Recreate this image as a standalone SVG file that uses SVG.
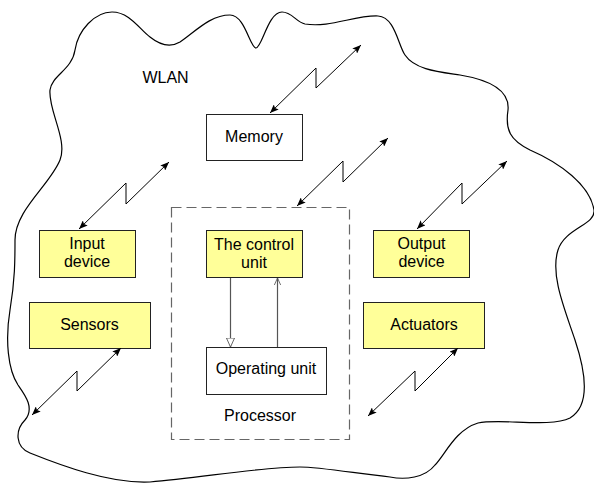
<svg xmlns="http://www.w3.org/2000/svg" width="594" height="483" viewBox="0 0 594 483">
<style>
text{font-family:"Liberation Sans",Arial,sans-serif;font-size:16px;fill:#000;text-anchor:middle}
.box{fill:#fff;stroke:#222;stroke-width:1}
.yel{fill:#ffff99;stroke:#222;stroke-width:1}
.bolt{fill:none;stroke:#000;stroke-width:1;marker-start:url(#ah);marker-end:url(#ah)}
.inner{fill:none;stroke:#555;stroke-width:1.2}
</style>
<defs>
<marker id="ah" viewBox="0 0 10 8" refX="10" refY="4" markerWidth="9" markerHeight="7" markerUnits="userSpaceOnUse" orient="auto-start-reverse">
<path d="M0,0 L10,4 L0,8 L2,4 z" fill="#000"/>
</marker>
<marker id="tri" viewBox="0 0 10 10" refX="10" refY="5" markerWidth="10" markerHeight="9" markerUnits="userSpaceOnUse" orient="auto">
<path d="M0,0.5 L10,5 L0,9.5 z" fill="#fff" stroke="#555" stroke-width="1"/>
</marker>
<marker id="vee" viewBox="0 0 10 10" refX="10" refY="5" markerWidth="7" markerHeight="8" markerUnits="userSpaceOnUse" orient="auto">
<path d="M0,0.5 L10,5 L0,9.5" fill="none" stroke="#555" stroke-width="1.2"/>
</marker>
</defs>
<rect width="594" height="483" fill="#fff"/>
<g id="wlan">
<path d="M15,240 C15,210 50,185 60,160 C68,140 48,110 50,90 C52,75 72,70 75,50 C78,30 95,12 112,12 C130,12 140,30 150,37 C160,45 170,48 180,42 C195,32 210,15 230,15 C245,15 250,48 256,48 C262,48 268,12 282,12 C292,12 296,22 305,24 C330,28 355,15 378,16 C395,17 398,45 405,55 C415,70 440,72 460,75 C490,80 510,90 508,110 C505,130 510,140 530,150 C560,163 590,185 594,210 C596,225 565,228 558,250 C550,275 565,310 575,340 C585,370 592,405 570,418 C550,428 500,418 478,423 C455,430 445,455 435,465 C425,478 405,480 390,477 C360,474 320,467 300,467 C260,467 200,478 150,482 C110,484 60,465 30,453 C15,447 15,430 25,420 C35,408 25,395 18,385 C8,370 5,340 10,310 C15,280 15,260 15,240 Z" fill="none" stroke="#000" stroke-width="1.2"/>
<text x="165.5" y="83">WLAN</text>
</g>
<g id="processor">
<rect x="171.5" y="207.5" width="178" height="232" fill="none" stroke="#666" stroke-width="1.2" stroke-dasharray="10,5"/>
<text x="260" y="421">Processor</text>
</g>
<g id="memory"><rect class="box" x="206.5" y="114.5" width="96" height="46"/><text x="254" y="142">Memory</text></g>
<g id="input-device"><rect class="yel" x="39.5" y="230.5" width="96" height="47"/><text x="87" y="249">Input</text><text x="87" y="267">device</text></g>
<g id="sensors"><rect class="yel" x="29.5" y="302.5" width="121" height="46"/><text x="89.5" y="330">Sensors</text></g>
<g id="control-unit"><rect class="yel" x="206.5" y="230.5" width="96" height="47"/><text x="254" y="250">The control</text><text x="254" y="268">unit</text></g>
<g id="operating-unit"><rect class="box" x="206.5" y="347.5" width="120" height="47"/><text x="266" y="374">Operating unit</text></g>
<g id="output-device"><rect class="yel" x="373.5" y="230.5" width="96" height="47"/><text x="421.5" y="249">Output</text><text x="421.5" y="267">device</text></g>
<g id="actuators"><rect class="yel" x="363.5" y="302.5" width="121" height="46"/><text x="424" y="330">Actuators</text></g>
<g id="connectors">
<line class="inner" x1="230.5" y1="278" x2="230.5" y2="347" marker-end="url(#tri)"/>
<line class="inner" x1="277.5" y1="347" x2="277.5" y2="278" marker-end="url(#vee)"/>
<polyline class="bolt" points="270,113 316,68 316,88 361,45"/>
<polyline class="bolt" points="79,229 126,183 126,204 169,162"/>
<polyline class="bolt" points="297,206 343,161 343,182 388,138"/>
<polyline class="bolt" points="417,229 462,183 462,204 507,161"/>
<polyline class="bolt" points="32,415 77,371 77,391 121,348"/>
<polyline class="bolt" points="368,416 415,371 415,391 458,348"/>
</g>
</svg>
